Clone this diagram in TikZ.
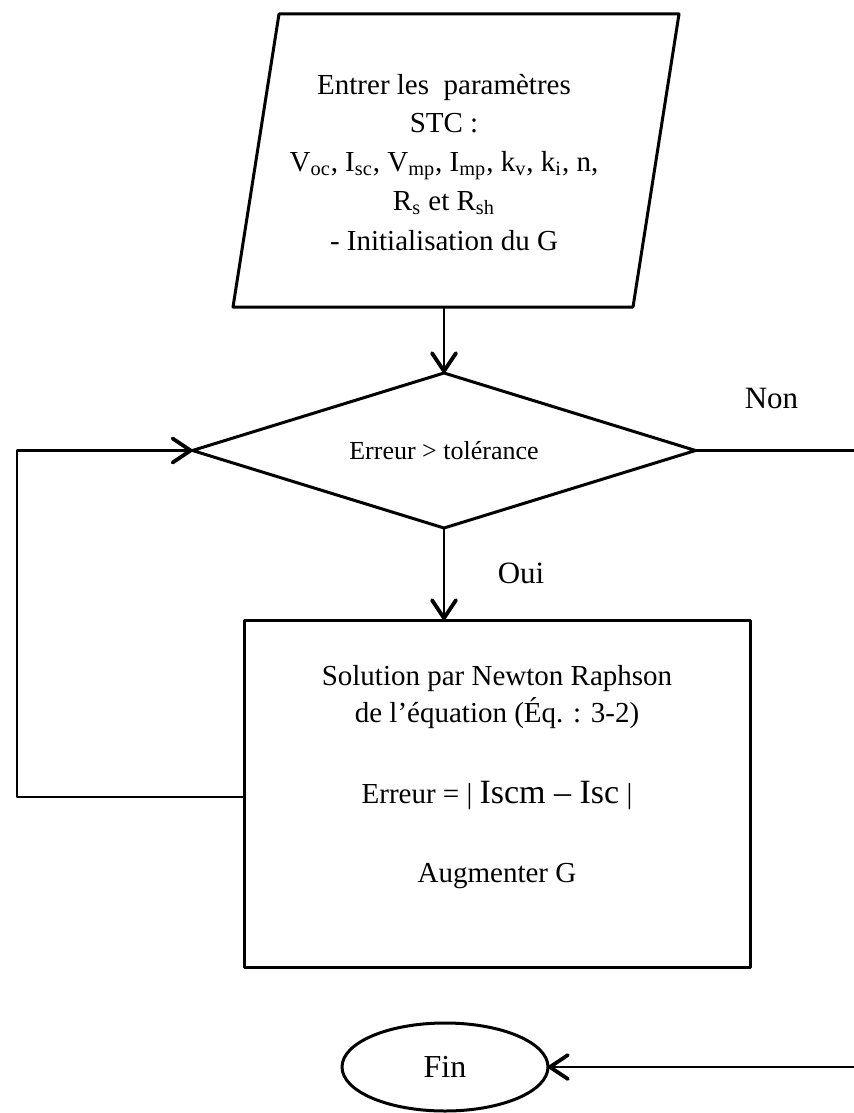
\documentclass[tikz,border=0pt]{standalone}
\usepackage{fontspec}
\setmainfont{Liberation Serif}
\usetikzlibrary{shapes.geometric,arrows.meta}

\tikzset{
  outline/.style={draw,line width=1.5pt},
  flowline/.style={line width=1.1pt},
  flowarrow/.style={line width=1pt,-{Straight Barb[length=9pt,width=12pt,line width=1.9pt,round]}},
  txt/.style={anchor=base,inner sep=0pt,font=\fontsize{14.5}{17}\selectfont},
  lbl/.style={anchor=base,inner sep=0pt,font=\fontsize{15.5}{18}\selectfont},
  decision/.style={diamond,outline,inner sep=0pt,outer sep=0pt,aspect=3.25,
    minimum width=251.5pt,minimum height=77.5pt,font=\fontsize{13}{15}\selectfont},
  procbox/.style={rectangle,outline,inner sep=0pt,outer sep=0pt,
    minimum width=253pt,minimum height=173.5pt},
  endnode/.style={ellipse,outline,inner sep=0pt,outer sep=0pt,
    minimum width=103pt,minimum height=44pt,font=\fontsize{16}{18}\selectfont},
}

\begin{document}
\begin{tikzpicture}[x=0.5pt,y=-0.5pt,line cap=round,line join=round]
  \useasboundingbox (0,0) rectangle (854,1113);
  % input parallelogram
  \draw[outline] (279,14) -- (679,14) -- (633,307) -- (233,307) -- cycle;
  \node[txt] (in1) at (444,95) {Entrer les~ paramètres};
  \node[txt] (in2) at (444,133) {STC :};
  \node[txt] (in3) at (444,171) {V\textsubscript{oc}, I\textsubscript{sc}, V\textsubscript{mp}, I\textsubscript{mp}, k\textsubscript{v}, k\textsubscript{i}, n,};
  \node[txt] (in4) at (444,210) {R\textsubscript{s} et R\textsubscript{sh}};
  \node[txt] (in5) at (444,250) {- Initialisation du G};
  \coordinate (in-s) at (444,307);
  % decision
  \node[decision] (dec) at (444,450.5) {Erreur > tolérance};
  \node[lbl] (non) at (771.5,408) {Non};
  \node[lbl] (oui) at (521,583) {Oui};
  % process box
  \node[procbox] (proc) at (497,793.5) {};
  \node[txt] (pr1) at (497,685) {Solution par Newton Raphson};
  \node[txt] (pr2) at (497,722) {de l’équation (Éq. : 3-2)};
  \node[txt] (pr3) at (497,803) {Erreur = | {\fontsize{17}{19}\selectfont Iscm – Isc} |};
  \node[txt] (pr4) at (497,882) {Augmenter G};
  % end
  \node[endnode] (fin) at (445,1067) {Fin};
  % connectors
  \coordinate (edgeR) at (854,0);
  \coordinate (loopB) at (17,797);
  \draw[flowarrow] (in-s) -- (dec.north);
  \draw[flowarrow] (dec.south) -- (dec.south |- proc.north);
  \draw[flowarrow,line width=1.1pt] (proc.west |- loopB) -- (loopB) |- (dec.west);
  \draw[flowline] (dec.east) -- (edgeR |- dec.east);
  \draw[flowarrow] (edgeR |- fin.east) -- (fin.east);
\end{tikzpicture}
\end{document}
